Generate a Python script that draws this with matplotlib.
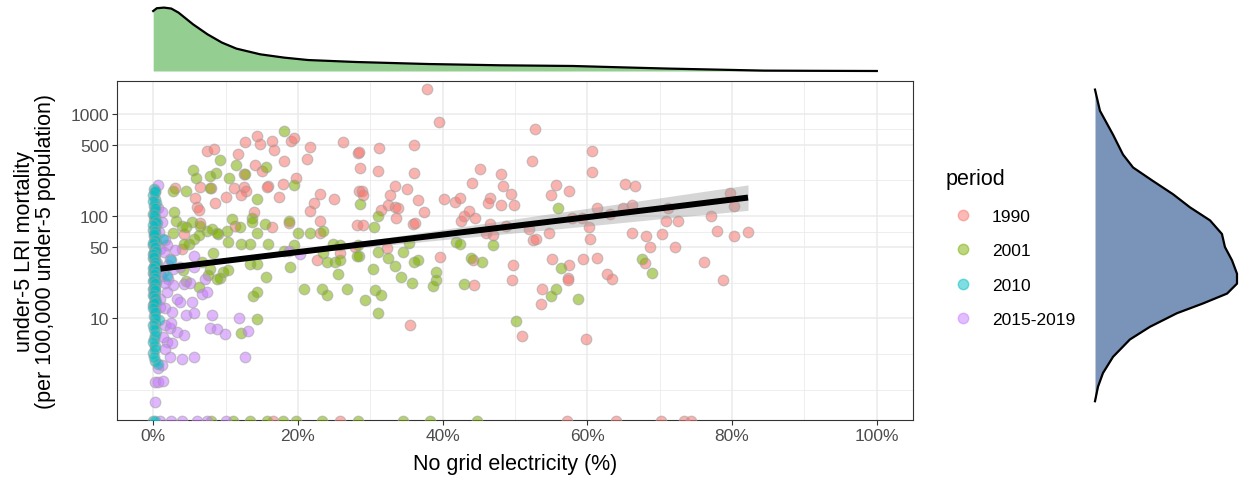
import numpy as np
import matplotlib
matplotlib.use("Agg")
from matplotlib import pyplot as plt
from matplotlib.lines import Line2D

plt.rcParams["font.family"] = ["Liberation Sans", "DejaVu Sans"]

periods = ["1990", "2001", "2010", "2015-2019"]
colors = ["#F8766D", "#7CAE00", "#00BFC4", "#C77CFF"]

# (no grid electricity %, under-5 LRI deaths per 100,000)
pts_1990 = [
    (7.4, 431), (8.4, 457), (12.7, 531), (14.3, 602), (14.7, 508), (16.4, 547), (16.7, 447),
    (19.0, 547), (19.4, 581), (21.7, 471), (21.2, 363), (18.1, 345), (11.7, 409), (14.1, 315),
    (15.1, 275), (12.5, 260), (19.7, 237), (17.9, 208), (15.9, 197), (15.7, 194), (11.1, 190),
    (12.5, 194), (12.8, 176), (10.1, 155), (12.2, 160), (6.5, 194), (8.0, 190), (3.0, 187),
    (5.8, 152), (6.1, 123), (6.4, 114), (8.6, 136), (13.9, 110), (17.4, 155), (23.0, 166),
    (22.2, 136), (25.0, 146), (26.3, 531), (28.3, 415), (21.7, 113), (23.0, 90), (23.0, 69),
    (18.7, 86), (16.4, 78), (11.3, 81), (6.5, 86), (4.2, 67), (4.0, 48), (22.6, 37), (25.8, 44),
    (28.5, 176), (28.1, 82),
    (37.8, 1735), (39.5, 830), (52.8, 715), (52.4, 345), (36.1, 500), (31.2, 460), (28.4, 421),
    (28.6, 297), (31.1, 275), (36.0, 262), (45.1, 286), (48.0, 260), (44.0, 210), (48.3, 197),
    (49.5, 164), (55.7, 203), (55.0, 161), (57.5, 176), (28.8, 176), (29.0, 160), (32.7, 160),
    (33.4, 197), (35.1, 183), (36.6, 144), (40.2, 146), (41.7, 138), (42.4, 149), (46.5, 152),
    (46.3, 134), (48.1, 128), (49.8, 128), (32.5, 128), (33.4, 124), (33.9, 119), (31.5, 115),
    (37.4, 109), (33.5, 95), (29.0, 82), (35.9, 84), (36.2, 86), (42.5, 90), (43.0, 101),
    (43.7, 113), (44.5, 97), (46.5, 84), (48.8, 81), (51.9, 75), (52.5, 58), (52.9, 60),
    (54.7, 68), (46.0, 68), (46.9, 65), (27.9, 50), (32.3, 49), (39.7, 40), (44.2, 37),
    (55.1, 38), (57.5, 33.7), (57.3, 25), (57.3, 23.6), (49.7, 33), (49.6, 23.6), (53.8, 19.3),
    (53.6, 13.8), (44.3, 21.4), (35.5, 8.5), (51.0, 6.6),
    (60.6, 431), (60.7, 272), (65.2, 205), (66.6, 197), (61.3, 119), (64.9, 119), (66.2, 129),
    (71.2, 121), (57.9, 95), (59.3, 97), (63.1, 105), (79.7, 170), (80.3, 125), (77.1, 101),
    (60.2, 79), (60.3, 60), (70.8, 89), (72.5, 90), (66.1, 68), (68.1, 64), (70.3, 67),
    (77.9, 72), (80.2, 64), (82.2, 70), (68.6, 50), (72.1, 50), (59.4, 38), (61.3, 39),
    (76.1, 36), (62.7, 27.4), (63.4, 24.4), (67.9, 34.7), (78.8, 23.6), (59.8, 6.2),
    (16.6, 0), (25.8, 0), (57.2, 0), (63.9, 0), (70.2, 0), (73.4, 0), (74.3, 0),
]

pts_2001 = [
    (18.1, 673), (9.2, 350), (5.5, 280), (5.9, 237), (8.7, 265), (7.9, 247), (11.5, 315),
    (10.5, 234), (12.7, 256), (15.6, 304), (19.4, 200), (4.6, 176), (2.8, 176), (7.8, 190),
    (14.4, 146), (2.9, 109), (3.2, 90), (4.0, 81), (4.6, 78), (5.3, 87), (6.5, 81), (7.4, 72),
    (8.1, 75), (9.0, 67), (10.2, 72), (10.9, 94), (12.0, 78), (13.6, 97), (13.7, 87), (15.4, 84),
    (18.7, 90), (20.0, 68), (21.7, 68), (23.5, 72), (2.7, 68), (4.9, 54), (5.6, 60), (6.3, 65),
    (8.8, 68), (10.4, 56), (12.2, 54), (13.4, 54), (14.3, 68), (15.8, 54), (19.4, 52), (18.1, 46),
    (23.5, 44), (24.9, 54), (25.8, 52), (28.3, 52), (25.1, 35.5), (25.8, 37), (24.0, 35.5),
    (18.9, 31.8), (13.4, 34.2), (14.3, 34.2), (7.9, 30.6), (8.3, 44), (6.7, 36), (4.1, 29.5),
    (9.2, 24.8), (9.7, 28.4), (10.4, 29.5), (8.8, 24.4), (6.3, 20.3), (7.6, 26.8), (4.6, 23),
    (15.6, 25.4), (20.8, 19.5), (23.3, 19.5), (24.0, 17.1), (26.8, 19.5), (25.6, 27.4),
    (13.8, 16.6), (14.4, 18.2), (14.4, 9.8), (12.1, 7.1), (28.5, 41), (4.2, 54),
    (28.6, 131), (31.1, 101), (30.5, 79), (56.0, 119), (35.3, 55), (41.9, 56), (42.4, 54),
    (46.9, 52), (28.2, 41), (31.1, 45), (32.5, 39), (34.5, 45), (30.4, 30.6), (33.4, 32.5),
    (36.1, 35.5), (36.6, 37), (39.1, 28.8), (34.2, 25.4), (35.7, 22.4), (39.1, 23.6), (38.7, 20.8),
    (43.0, 21.9), (43.9, 39), (45.4, 35.5), (56.4, 31), (55.7, 19.5), (55.0, 16.5), (30.7, 18.8),
    (31.5, 17.1), (29.3, 15.3), (31.0, 11.2), (50.1, 9.3),
    (67.5, 38), (68.9, 28), (58.7, 15.4),
    (8.0, 0), (11.0, 0), (13.4, 0), (15.7, 0), (18.0, 0), (19.8, 0), (23.3, 0), (28.3, 0),
    (34.5, 0), (38.2, 0), (44.7, 0),
]

pts_2010 = [
    (0.1, 185), (0.3, 172), (0.0, 160), (0.2, 147), (0.4, 136), (0.1, 125), (0.2, 114), (0.0, 106),
    (0.3, 98), (0.1, 92), (0.5, 85), (0.2, 79), (0.0, 74), (0.3, 69), (0.1, 64), (0.2, 60),
    (0.4, 56), (0.0, 52), (0.2, 48), (0.1, 45), (0.3, 42), (0.0, 39), (0.2, 37), (0.4, 34),
    (0.1, 32), (0.3, 30), (0.0, 28), (0.2, 26), (0.1, 24), (0.4, 22.5), (0.2, 21), (0.0, 19.5),
    (0.3, 18), (0.1, 16.5), (0.2, 15), (0.0, 13.5), (0.3, 12), (0.1, 10.5), (0.2, 9), (0.4, 7.5),
    (0.1, 6.2), (0.3, 5.2), (0.0, 4.4), (0.2, 3.6), (0.6, 3.3), (2.4, 37), (1.9, 26), (1.4, 60),
    (0.8, 9.5),
    (0.2, 178), (0.0, 141), (0.3, 119), (0.1, 102), (0.4, 88), (0.0, 82), (0.2, 71), (0.1, 67),
    (0.3, 58), (0.0, 55), (0.2, 50), (0.4, 46), (0.0, 43), (0.1, 40), (0.3, 35.5), (0.2, 33),
    (0.0, 31), (0.4, 29), (0.1, 27), (0.3, 25), (0.0, 23), (0.2, 22), (0.1, 20), (0.3, 19),
    (0.0, 17), (0.2, 16), (0.4, 14.5), (0.1, 14), (0.0, 12.5), (0.2, 11.5), (0.3, 10), (0.0, 8.5),
    (0.1, 7.8), (0.2, 6.8), (0.0, 5.7), (0.3, 4.8), (0.1, 4.0),
    (0.0, 0), (0.3, 0),
]

pts_2019 = [
    (0.6, 200), (1.2, 87), (1.7, 58), (1.9, 52), (1.0, 48), (3.0, 47), (2.3, 38), (2.7, 30.6),
    (3.7, 31.8), (5.6, 41), (5.6, 31.8), (1.4, 28.4), (2.1, 24.4), (2.8, 21.1), (4.2, 21.9),
    (5.1, 22.4), (7.2, 24.4), (6.7, 17.5), (7.4, 18.2), (1.9, 18.2), (3.3, 15.6), (1.0, 15.6),
    (1.7, 12.5), (2.6, 11.6), (3.7, 14.5), (5.3, 14.5), (4.6, 10.8), (5.6, 11.2), (8.1, 10.8),
    (11.8, 10.1), (1.7, 8.5), (2.3, 7.9), (3.3, 7.3), (4.2, 6.7), (7.9, 7.9), (8.8, 7.8),
    (9.9, 6.9), (13.1, 7.4), (1.9, 5.8), (2.6, 5.6), (1.7, 4.9), (4.0, 3.8), (5.6, 4.0),
    (12.7, 4.0), (2.3, 4.0), (0.7, 3.0), (1.2, 3.2), (0.3, 2.0), (0.7, 2.0), (1.4, 2.06),
    (0.3, 0.86), (20.3, 43), (18.7, 46), (0.3, 90), (0.8, 70), (1.5, 45), (0.5, 35), (1.1, 26),
    (2.0, 33), (1.6, 22), (0.9, 13), (2.4, 9), (1.3, 6.5), (0.7, 120), (1.2, 110),
    (1.0, 0), (2.5, 0), (4.0, 0), (6.0, 0), (7.5, 0), (10.0, 0),
]

# linear fit (on the transformed scale) with its 95% band
smooth_x = [1, 12, 25, 40, 55, 70, 82.2]
smooth_fit = [30.7, 38.1, 49.2, 66.1, 88.7, 119, 152]
smooth_lo = [29.0, 37.1, 46.5, 58.9, 74.1, 94.2, 114]
smooth_hi = [32.5, 39.2, 52.1, 74.1, 106, 151, 202]

# marginal density of x (relative height)
top_x = [0, 0.5, 1.5, 2.5, 3.5, 5.5, 7.5, 9.5, 11.5, 14.8, 18.1, 21.4, 28, 38, 48, 58,
         64.6, 71.2, 77.8, 84.4, 91, 100]
top_d = [0.946, 0.99, 1.0, 0.985, 0.921, 0.737, 0.579, 0.448, 0.353, 0.263, 0.211, 0.173,
         0.142, 0.110, 0.090, 0.079, 0.058, 0.038, 0.022, 0.006, 0.003, 0.0]

# marginal density of y (relative width)
right_y = [1722, 1069, 625, 400, 299, 224, 164, 122, 91, 67, 50, 37, 27.4, 21.9, 17.5,
           14.0, 11.2, 8.2, 6.1, 4.0, 2.6, 1.7, 0.92]
right_d = [0.0, 0.035, 0.127, 0.197, 0.268, 0.401, 0.549, 0.669, 0.810, 0.894, 0.915, 0.965,
           1.0, 1.0, 0.930, 0.761, 0.577, 0.387, 0.246, 0.127, 0.056, 0.021, 0.0]

LN10 = np.log(10)


def fwd(v):
    return np.arcsinh(np.asarray(v, dtype=float) / 2) / LN10


def inv(t):
    return 2 * np.sinh(np.asarray(t, dtype=float) * LN10)


W, H = 1241, 481
fig = plt.figure(figsize=(W / 100, H / 100), dpi=100)


def px_axes(l, t, r, b):
    return fig.add_axes([l / W, 1 - b / H, (r - l) / W, (b - t) / H])


ax = px_axes(117, 82, 913, 421)
ax.set_yscale("function", functions=(fwd, inv))
ylo, yhi = float(inv(0.01)), float(inv(3.32))

for pts, col in [(pts_1990, colors[0]), (pts_2001, colors[1]), (pts_2019, colors[3]), (pts_2010, colors[2])]:
    arr = np.array(pts)
    ax.scatter(arr[:, 0], arr[:, 1], s=58, color=col, alpha=0.55, edgecolors="#a0a0a0",
               linewidths=0.9, zorder=3)

ax.fill_between(smooth_x, smooth_lo, smooth_hi, color="#999999", alpha=0.4, lw=0, zorder=4)
ax.plot(smooth_x, smooth_fit, color="black", lw=4.3, solid_capstyle="butt", zorder=5)

ax.set_xlim(-5, 105)
ax.set_ylim(ylo, yhi)
xt = [0, 20, 40, 60, 80, 100]
ax.set_xticks(xt)
ax.set_xticklabels([f"{v}%" for v in xt])
ax.set_xticks([10, 30, 50, 70, 90], minor=True)
yt = [10, 50, 100, 500, 1000]
ax.set_yticks(yt)
ax.set_yticklabels([str(v) for v in yt])
mids = [(fwd(a) + fwd(b)) / 2 for a, b in zip(yt[:-1], yt[1:])]
ax.set_yticks([1.5, 4.3] + [float(inv(m)) for m in mids], minor=True)
ax.grid(which="major", color="#EBEBEB", lw=1.1)
ax.grid(which="minor", color="#EBEBEB", lw=0.6)
ax.set_axisbelow(True)
ax.tick_params(which="minor", length=0)
ax.tick_params(which="major", length=3.3, width=0.8, color="#333333", labelsize=12.5,
               labelcolor="#4D4D4D", pad=2.5)
for s in ax.spines.values():
    s.set_color("#333333")
    s.set_linewidth(0.8)
ax.set_xlabel("No grid electricity (%)", fontsize=15.5, labelpad=7)
ax.set_ylabel("under-5 LRI mortality\n(per 100,000 under-5 population)", fontsize=15.5,
              labelpad=10, linespacing=1.05)

# top marginal
axt = px_axes(117, 4, 913, 72)
axt.fill_between(top_x, 0, top_d, color="#94CF91", lw=0)
axt.plot(top_x, top_d, color="black", lw=1.6, clip_on=False)
axt.set_xlim(-5, 105)
axt.set_ylim(0, 68 / 63.4)
axt.axis("off")

# right marginal
axr = px_axes(1095, 82, 1241, 421)
axr.set_yscale("function", functions=(fwd, inv))
axr.fill_betweenx(right_y, 0, right_d, color="#7A93B9", lw=0)
axr.plot(right_d, right_y, color="black", lw=1.6, clip_on=False)
axr.set_xlim(0, 146 / 142)
axr.set_ylim(ylo, yhi)
axr.axis("off")

handles = [Line2D([], [], marker="o", ls="", markersize=7.5, markerfacecolor=c,
                  markeredgecolor=c, alpha=0.5) for c in colors]
leg = fig.legend(handles, periods, title="period", loc="upper left",
                 bbox_to_anchor=(946 / W, 1 - 169 / H), frameon=False, fontsize=12.5,
                 title_fontsize=15.5, borderpad=0, handlelength=2.0, handletextpad=0.65,
                 labelspacing=1.12, borderaxespad=0)
leg._legend_box.align = "left"

fig.savefig("out.png", dpi=100)
